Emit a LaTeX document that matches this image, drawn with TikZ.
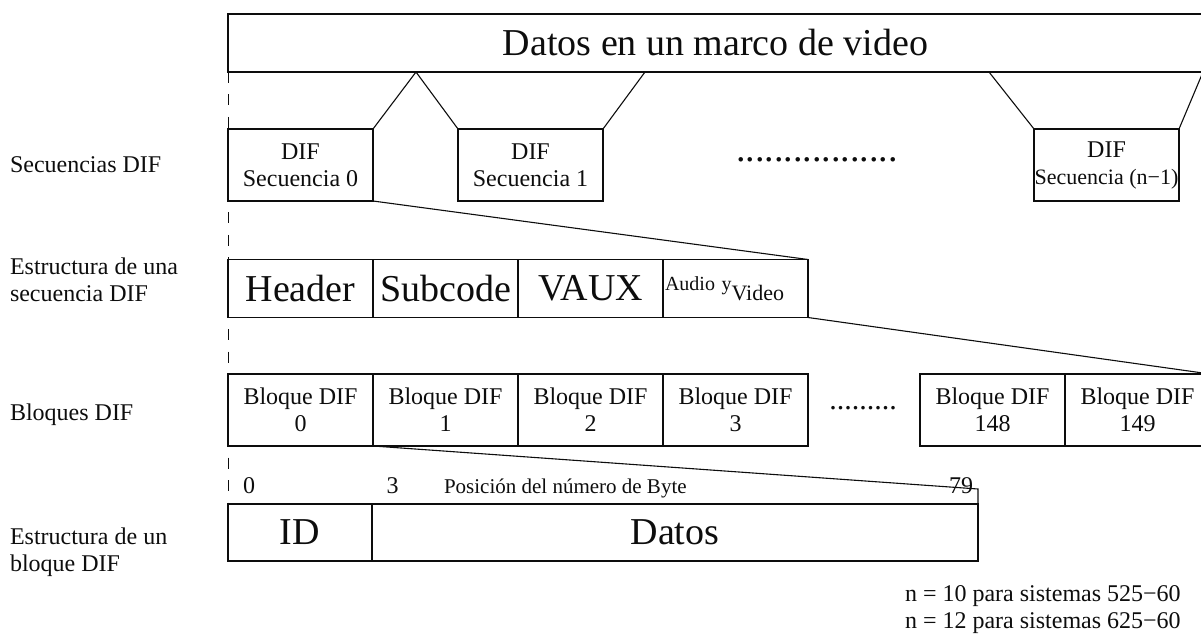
\documentclass[tikz,border=0pt]{standalone}
\usepackage{fontspec}
\setmainfont{Liberation Serif}
\usetikzlibrary{positioning}
\definecolor{mainBlack}{gray}{0.05}

\newcommand{\fsBig}{\fontsize{38}{40}\selectfont}
\newcommand{\fsMid}{\fontsize{24}{27}\selectfont}
\newcommand{\fsSmall}{\fontsize{20}{22}\selectfont}

\begin{document}
\begin{tikzpicture}[x=1pt, y=-1pt, mainBlack,
    every node/.style={inner sep=0pt, outer sep=0pt},
    cell/.style={draw, line width=1.2pt, minimum width=145pt, minimum height=72pt, align=center, font=\fsMid},
    flat/.style={cell, minimum height=58pt, font=\fsBig},
    lbl/.style={anchor=west, align=left, font=\fsMid},
    guide/.style={line width=1pt, dash pattern=on 11pt off 11.5pt}]
    \useasboundingbox (0,0) rectangle (1201,636);
    \clip (0,0) rectangle (1201,636);

    % marco de video
    \node[draw, line width=1.2pt, minimum width=975pt, minimum height=58pt, font=\fsBig] (marco) at (715.5,43) {Datos en un marco de video};

    % secuencias DIF
    \node[cell] (seq0) at (300.5,165) {DIF\\Secuencia 0};
    \node[cell] (seq1) at (530.5,165) {DIF\\Secuencia 1};
    \node[cell] (seqn) at (1106.5,165) {DIF\\{\fontsize{22}{27}\selectfont Secuencia (n−1)}};
    \node[font=\fsBig] (dots1) at (817,160) {.................};

    \coordinate (p1) at (416,72);
    \coordinate (p2) at (645,72);
    \coordinate (p3) at (989,72);
    \draw[line width=1.1pt] (seq0.north east) -- (p1) -- (seq1.north west);
    \draw[line width=1.1pt] (seq1.north east) -- (p2);
    \draw[line width=1.1pt] (seqn.north west) -- (p3);
    \draw[line width=1.1pt] (seqn.north east) -- (marco.south east);

    % estructura de una secuencia
    \node[flat] (hdr) at (300.5,288.5) {Header};
    \node[flat, right=0pt of hdr] (sub) {Subcode};
    \node[flat, right=0pt of sub] (vaux) {VAUX};
    \node[flat, right=0pt of vaux, font=\fsSmall, text width=141pt, align=left] (av) {Audio y\raisebox{-10pt}{\fontsize{22}{22}\selectfont Video}};
    \draw[line width=1.1pt] (seq0.south east) -- (av.north east);

    % bloques DIF
    \node[cell] (blq0) at (300.5,410) {Bloque DIF\\0};
    \foreach \i [remember=\i as \j (initially 0)] in {1,2,3} {
        \node[cell, right=0pt of blq\j] (blq\i) {Bloque DIF\\\i};
    }
    \node[font=\fontsize{30}{30}\selectfont] (dots2) at (863,408) {.........};
    \node[cell] (blq148) at (992.5,410) {Bloque DIF\\148};
    \node[cell, right=0pt of blq148] (blq149) {Bloque DIF\\149};
    \draw[line width=1.1pt] (av.south east) -- (blq149.north east);

    % estructura de un bloque
    \node[flat, minimum width=144pt, minimum height=57pt] (id) at (300,532.5) {ID};
    \node[flat, minimum width=606pt, minimum height=57pt, right=0pt of id] (datos) {Datos};
    \node[anchor=base, font=\fsMid] (b0) at (249,493) {0};
    \node[anchor=base, font=\fsMid] (b3) at (392.5,493) {3};
    \node[anchor=base west, font=\fontsize{21}{22}\selectfont] (pos) at (444,493) {Posición del número de Byte};
    \node[anchor=base, font=\fsMid] (b79) at (961,493) {79};
    \coordinate (p79) at (978,489);
    \draw[line width=1.1pt] (blq0.south east) -- (p79) -- (datos.north east);

    % linea guia
    \draw[guide] (marco.south west) -- (seq0.north west);
    \draw[guide, dash phase=11pt] (seq0.south west) -- (hdr.north west);
    \draw[guide, dash phase=11pt] (hdr.south west) -- (blq0.north west);
    \draw[guide, dash phase=11pt] (blq0.south west) -- (id.north west);

    % etiquetas
    \node[lbl] (lseq) at (10,165) {Secuencias DIF};
    \node[lbl] (lest) at (10,280) {Estructura de una\\secuencia DIF};
    \node[lbl] (lblq) at (10,415) {Bloques DIF};
    \node[lbl] (lblk) at (10,552) {Estructura de un\\bloque DIF};
    \node[lbl] (nota) at (905,610) {n = 10 para sistemas 525−60\\n = 12 para sistemas 625−60};
\end{tikzpicture}
\end{document}
